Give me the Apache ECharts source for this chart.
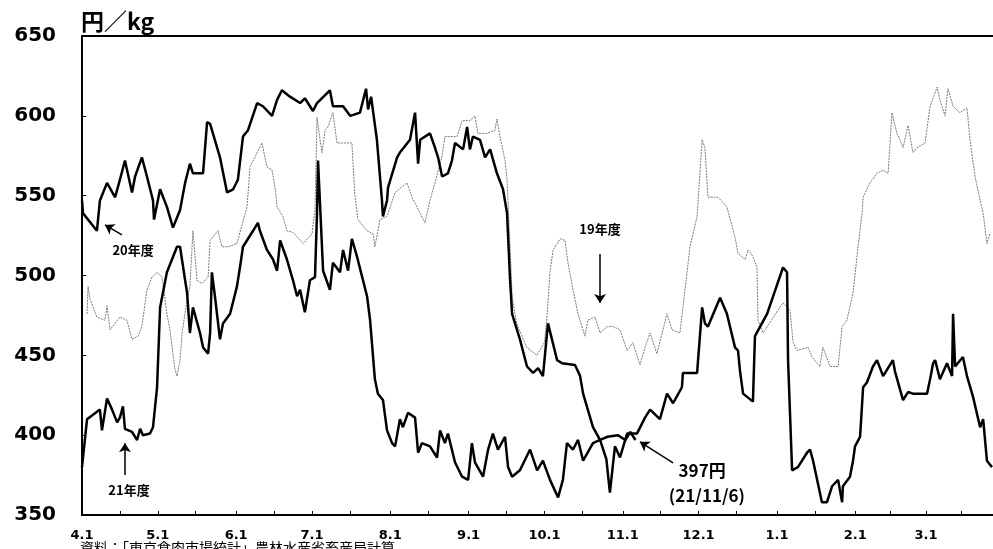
<!DOCTYPE html>
<html>
<head>
<meta charset="utf-8">
<script src="https://cdn.jsdelivr.net/npm/echarts@6/dist/echarts.min.js"></script>
<style>
  html, body { margin: 0; padding: 0; background: #fff; }
  #chart { width: 993px; height: 549px; }
</style>
</head>
<body>
<div id="chart"></div>
<script>
// 4月1日を0日目とした日数
var monthDays = [0, 30, 61, 91, 122, 153, 183, 214, 244, 275, 306, 334];
var monthLabels = ["4.1", "5.1", "6.1", "7.1", "8.1", "9.1", "10.1", "11.1", "12.1", "1.1", "2.1", "3.1"];
var halfDays = [15, 45, 76, 106, 137, 168, 198, 229, 259, 290, 320, 348];

// 19年度 [日, 円/kg]
var fy19 = [
  [2, 476], [2.4, 493], [3.2, 485], [5.9, 474], [9.1, 472], [9.9, 481], [11.1, 466], [15, 474],
  [17.8, 472], [19.8, 460], [22.2, 462], [23.7, 468], [25.7, 491], [27.7, 499], [29.7, 502],
  [31.7, 499], [33.6, 476], [34.8, 466], [36.8, 441], [37.6, 437], [38.8, 447], [39.6, 464],
  [41.6, 485], [42.7, 493], [43.9, 528], [45.5, 497], [47.5, 495], [49.9, 499], [50.7, 522],
  [53.8, 528], [55.4, 518], [57.8, 518], [61.3, 520], [65.3, 543], [66.5, 568], [71.2, 583],
  [73.2, 568], [75.2, 566], [76.4, 555], [77.2, 543], [79.5, 537], [81.1, 528], [83.5, 527],
  [87.5, 520], [91, 526], [92.2, 541], [93, 599], [94.2, 585], [95, 577], [96.2, 591],
  [97.3, 593], [99.3, 602], [100.9, 583], [104.9, 583], [106.8, 583], [108, 550], [109.2, 535],
  [112.8, 528], [115.2, 526], [115.9, 518], [117.9, 535], [120.7, 537], [123.9, 552],
  [128.6, 558], [130.6, 549], [135.7, 533], [137.7, 547], [139.7, 558], [142.5, 575],
  [143.6, 587], [148.4, 587], [150.4, 597], [153.5, 597], [155.5, 600], [156.7, 589],
  [160.3, 589], [163.4, 591], [164.2, 598], [165.4, 587], [167.4, 572], [168.2, 560],
  [169.4, 518], [170.2, 487], [172, 470], [176, 455], [180, 450], [183, 458], [184, 474],
  [185.2, 502], [186.4, 516], [189.2, 523], [191.1, 522], [192.3, 508], [194.3, 491],
  [196.3, 476], [199, 462], [200.2, 472], [203, 474], [205, 464], [207.8, 468], [210.1, 468],
  [212.9, 466], [215.7, 453], [218, 458], [220.8, 444], [222.8, 455], [224.8, 464],
  [227.5, 451], [231.5, 476], [233.5, 466], [236.6, 464], [237.8, 480], [240.6, 518],
  [243.4, 537], [245.4, 585], [246.5, 580], [247.7, 549], [251.7, 549], [255.2, 543],
  [258.4, 524], [259.6, 514], [262.4, 510], [263.6, 516], [265.5, 512], [267.1, 505],
  [267.5, 472], [269.5, 464], [277.4, 483], [280.2, 478], [281.4, 458], [282.9, 453],
  [287.3, 455], [288.9, 449], [292, 443], [293.2, 455], [296, 443], [299.2, 443], [300.8, 468],
  [302.7, 472], [305.1, 489], [307.1, 518], [308.7, 539], [309.1, 549], [311.8, 558],
  [314.6, 564], [317, 566], [319, 564], [320.5, 602], [322.5, 589], [323.7, 585], [324.9, 580],
  [326.9, 594], [328.8, 577], [330.4, 580], [333.6, 583], [335.6, 606], [338.4, 618],
  [339.5, 610], [341.5, 600], [342.7, 617], [344.7, 606], [347.4, 602], [350.2, 605],
  [351.4, 585], [353.4, 562], [355.4, 547], [356.6, 539], [358.1, 520], [359.3, 526]
];

// 20年度
var fy20 = [
  [0, 547], [0.4, 539], [2.4, 535], [5.9, 528], [7.1, 547], [9.9, 558], [13.1, 549], [15, 560],
  [17, 572], [19.8, 552], [21, 562], [23.7, 574], [25.7, 562], [28.1, 547], [28.5, 535],
  [30.9, 554], [33.6, 543], [36, 530], [38.8, 541], [40.8, 558], [42.7, 570], [43.9, 564],
  [47.9, 564], [49.5, 596], [50.7, 595], [54.6, 574], [57.4, 552], [59.8, 554], [61.7, 560],
  [63.7, 587], [65.7, 591], [69.3, 608], [71.6, 606], [75.2, 600], [77.2, 610], [79.1, 616],
  [82.3, 612], [86.3, 608], [88.2, 611], [91.4, 603], [93, 608], [98.1, 616], [99.3, 606],
  [103.3, 606], [106.1, 600], [110, 602], [112.4, 617], [113.2, 604], [114.4, 612],
  [116.7, 585], [118.7, 547], [119.1, 537], [120.7, 547], [121.1, 555], [124.7, 574],
  [125.8, 577], [129.8, 585], [131.8, 602], [133, 570], [133.8, 585], [137.7, 589],
  [139.7, 580], [140.9, 574], [142.5, 562], [144.8, 564], [146.4, 572], [147.6, 583],
  [150.8, 579], [152.4, 593], [153.5, 579], [154.7, 587], [157.5, 585], [159.5, 574],
  [161.5, 579], [164.2, 564], [166.6, 554], [168.2, 539], [169.4, 497], [170.2, 476],
  [173.3, 460], [176.1, 443], [178.5, 439], [180.5, 442], [182.4, 437], [184.4, 470],
  [188, 447], [190, 445], [195.1, 444], [197.1, 437], [198.3, 426], [202.2, 405], [205, 397],
  [207.5, 385], [208.9, 364], [210.9, 393], [212.9, 386], [215.7, 401], [219.6, 401],
  [222.8, 411], [224.8, 416], [228.7, 410], [231.5, 426], [233.9, 420], [237.4, 430],
  [237.8, 439], [243.4, 439], [245.4, 480], [246.5, 470], [247.7, 468], [252.5, 486],
  [255.2, 476], [258.4, 455], [259.6, 453], [260.4, 440], [261.6, 426], [265.5, 421],
  [266.3, 462], [271.1, 476], [277.4, 505], [279, 502], [279.4, 447], [281, 378], [283.3, 380],
  [286.9, 389], [288.1, 391], [289.3, 384], [292.8, 358], [294.8, 358], [296.8, 368],
  [299.2, 372], [300.8, 358], [301.1, 368], [303.9, 374], [305.1, 384], [305.9, 393],
  [307.9, 399], [309.1, 430], [310.6, 433], [313, 443], [314.6, 447], [317, 437], [320.9, 447],
  [321.7, 440], [324.9, 422], [326.9, 427], [328.8, 426], [334.4, 426], [335.6, 435],
  [336.8, 445], [337.6, 447], [339.5, 435], [342.3, 445], [344.3, 437], [344.7, 476],
  [345.5, 443], [348.6, 449], [350.2, 437], [352.6, 424], [355.4, 405], [356.6, 410],
  [358.1, 384], [360.1, 380]
];

// 21年度 (11/6まで)
var fy21 = [
  [0, 380], [2, 410], [7.1, 416], [7.9, 403], [9.9, 423], [11.9, 416], [13.9, 408], [15, 411],
  [16.2, 418], [17, 404], [19.8, 402], [21.8, 397], [23, 404], [24.1, 400], [26.9, 401],
  [28.1, 405], [29.7, 430], [30.9, 480], [33.6, 502], [37.6, 518], [38.8, 518], [40.8, 497],
  [41.6, 489], [42.7, 464], [43.9, 480], [46.7, 464], [47.9, 455], [49.9, 451], [50.7, 464],
  [51.4, 502], [52.6, 487], [54.6, 460], [55.8, 470], [58.6, 476], [61.3, 493], [62.5, 505],
  [63.7, 518], [67.7, 528], [69.6, 533], [70.4, 528], [73.2, 516], [75.6, 510], [77.2, 503],
  [78.4, 522], [81.1, 510], [83.5, 497], [85.1, 487], [86.3, 491], [88.2, 477], [90.2, 497],
  [92.2, 499], [93, 539], [93.4, 572], [95.4, 503], [98.1, 491], [99.3, 508], [102.1, 502],
  [103.3, 516], [105.3, 503], [106.8, 523], [108.8, 512], [112.8, 487], [114, 472],
  [115.9, 435], [117.1, 426], [119.1, 422], [120.7, 403], [122.7, 395], [123.9, 393],
  [125.8, 410], [127, 405], [129, 414], [131.8, 411], [133, 389], [134.5, 395], [137.7, 393],
  [140.5, 386], [141.7, 403], [143.6, 395], [144.8, 401], [147.6, 383], [150.4, 374],
  [152.8, 372], [154.3, 395], [155.5, 383], [158.7, 374], [160.7, 391], [162.6, 401],
  [164.6, 391], [167.4, 399], [168.6, 380], [170.2, 374], [173.3, 378], [177.3, 391],
  [180.1, 378], [182.4, 384], [185.2, 372], [188.4, 361], [190.3, 372], [191.9, 395],
  [194.3, 391], [196.3, 397], [198.3, 384], [202.2, 395], [205, 397], [208, 399], [212, 400],
  [215, 397], [217, 402], [219, 397]
];

// 注記 (データ座標)
var notes = [
  { text: "20年度", at: [20.2, 516], size: 13 },
  { text: "21年度", at: [18.6, 365.7], size: 13 },
  { text: "19年度", at: [205, 529], size: 13 },
  { text: "397円", at: [245.4, 377.6], size: 17 },
  { text: "(21/11/6)", at: [247.3, 362], size: 17 }
];
var arrows = [
  [[15.8, 525.4], [9.1, 531.7]],
  [[17, 375], [17, 395]],
  [[205, 513.5], [205, 482.8]],
  [[233.9, 382.6], [220.8, 395.8]]
];

var myChart = echarts.init(document.getElementById("chart"));

function monthLabel(v) {
  var i = monthDays.indexOf(v);
  return i >= 0 ? monthLabels[i] : "";
}

var option = {
  animation: false,
  backgroundColor: "#fff",
  title: {
    text: "円／kg",
    left: 76,
    top: 5,
    textStyle: {
      fontFamily: "Noto Sans CJK JP",
      fontSize: 23,
      fontWeight: "bold",
      color: "#000"
    }
  },
  grid: { left: 82, right: 0, top: 36, bottom: 34 },
  xAxis: [
    {
      type: "value",
      min: 0,
      max: 360.5,
      axisLine: { lineStyle: { color: "#000", width: 2 } },
      axisTick: {
        inside: true,
        length: 4,
        customValues: monthDays.concat(halfDays),
        lineStyle: { color: "#000", width: 1 }
      },
      axisLabel: {
        customValues: monthDays,
        formatter: monthLabel,
        margin: 14,
        color: "#000",
        fontFamily: "DejaVu Sans",
        fontWeight: "bold",
        fontSize: 13
      },
      splitLine: { show: false }
    },
    {
      type: "value",
      position: "top",
      min: 0,
      max: 360.5,
      axisLine: { show: true, lineStyle: { color: "#000", width: 2 } },
      axisTick: { show: false },
      axisLabel: { show: false },
      splitLine: { show: false }
    }
  ],
  yAxis: {
    type: "value",
    min: 350,
    max: 650,
    interval: 50,
    axisLine: { show: true, lineStyle: { color: "#000", width: 2 } },
    axisTick: { show: true, inside: true, length: 4, lineStyle: { color: "#000" } },
    axisLabel: {
      margin: 26,
      color: "#000",
      fontFamily: "DejaVu Sans",
      fontWeight: "bold",
      fontSize: 20
    },
    splitLine: { show: false }
  },
  series: [
    {
      name: "19年度",
      type: "line",
      data: fy19,
      symbol: "none",
      lineStyle: { color: "#7a7a7a", width: 1, type: [2, 1] }
    },
    {
      name: "20年度",
      type: "line",
      data: fy20,
      symbol: "none",
      lineStyle: { color: "#000", width: 2.5 }
    },
    {
      name: "21年度",
      type: "line",
      data: fy21,
      symbol: "none",
      lineStyle: { color: "#000", width: 2.5 },
      markLine: {
        silent: true,
        symbol: ["none", "arrow"],
        symbolSize: 9,
        label: { show: false },
        lineStyle: { color: "#000", width: 1.5, type: "solid" },
        data: arrows.map(function (a) {
          return [{ coord: a[0] }, { coord: a[1] }];
        })
      }
    }
  ]
};
myChart.setOption(option);

// 注記テキストと出典
var graphics = notes.map(function (n) {
  var p = myChart.convertToPixel({ gridIndex: 0 }, n.at);
  return {
    type: "text",
    x: p[0],
    y: p[1],
    style: {
      text: n.text,
      fill: "#000",
      font: "bold " + n.size + "px 'Noto Sans CJK JP'",
      textAlign: "center",
      textVerticalAlign: "middle"
    }
  };
});
graphics.push({
  type: "text",
  left: 80,
  top: 541,
  style: {
    text: "資料：「東京食肉市場統計」農林水産省畜産局計算",
    fill: "#000",
    font: "14px 'Noto Sans CJK JP'"
  }
});
myChart.setOption({ graphic: graphics });

window.addEventListener("resize", function () {
  myChart.resize();
});
</script>
</body>
</html>
